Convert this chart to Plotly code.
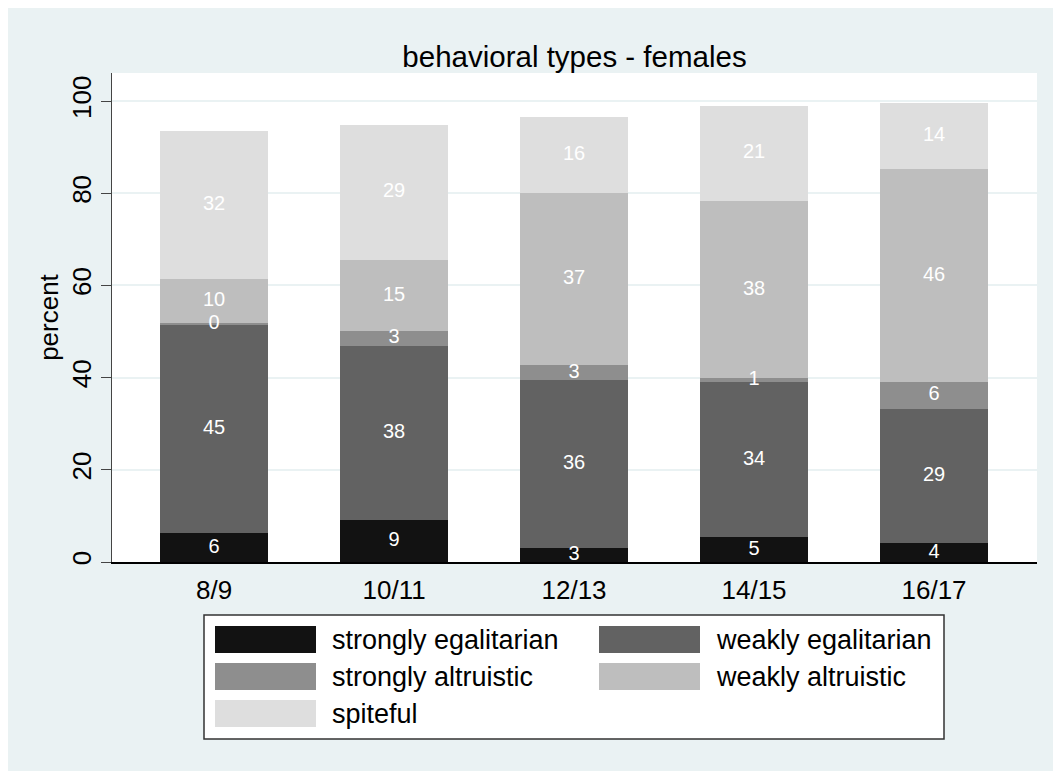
import plotly.graph_objects as go

# ---------------- data ----------------
categories = ["8/9", "10/11", "12/13", "14/15", "16/17"]
strongly_egalitarian = [6.2, 9.1, 3.1, 5.4, 4.1]
weakly_egalitarian = [45.4, 37.8, 36.4, 33.6, 29.2]
strongly_altruistic = [0.2, 3.2, 3.2, 0.9, 5.7]
weakly_altruistic = [9.6, 15.4, 37.4, 38.4, 46.3]
spiteful = [32.1, 29.4, 16.4, 20.7, 14.4]

series_names = ["strongly egalitarian", "weakly egalitarian", "strongly altruistic",
                "weakly altruistic", "spiteful"]
series_values = [strongly_egalitarian, weakly_egalitarian, strongly_altruistic,
                 weakly_altruistic, spiteful]
series_colors = ["#121212", "#626262", "#8E8E8E", "#BEBEBE", "#DEDEDE"]

y_ticks = [0, 20, 40, 60, 80, 100]

# ---------------- geometry (screen px, page keeps an 8px top/left margin) ----------------
OFF = 8
W, H = 1053 - OFF, 771 - OFF
L, R, T, B = 112 - OFF, 1037 - OFF, 73 - OFF, 562 - OFF   # plot area in figure px
PW, PH = R - L, B - T
FONT = "Liberation Sans, Arial, Helvetica, sans-serif"
BG = "#EAF2F3"


def px_x(x):
    return (x - OFF - L) / PW


def px_y(y):
    return (B - (y - OFF)) / PH


fig = go.Figure()

# stacked bars
for name, vals, col in zip(series_names, series_values, series_colors):
    fig.add_trace(go.Bar(
        x=categories, y=vals, name=name,
        marker=dict(color=col, line=dict(width=0)),
        showlegend=False,
    ))

# centred value labels
base = [0.0] * len(categories)
for vals in series_values:
    mids = [b + v / 2 for b, v in zip(base, vals)]
    fig.add_trace(go.Scatter(
        x=categories, y=mids, mode="text",
        text=[f"{v:.0f}" for v in vals],
        textfont=dict(color="white", size=20, family=FONT),
        showlegend=False, hoverinfo="skip",
    ))
    base = [b + v for b, v in zip(base, vals)]

shapes = []
# custom legend box (screen px)
lx0, lx1, ly0, ly1 = 204, 944, 615, 739
shapes.append(dict(type="rect", xref="paper", yref="paper", layer="above",
                   x0=px_x(lx0), x1=px_x(lx1), y0=px_y(ly1), y1=px_y(ly0),
                   fillcolor="white", line=dict(color="#333333", width=1.5)))

annotations = []
col_sw = [215, 599]
sw_w = 101
row_c = [639.5, 676.5, 713.5]
sw_h = 27
for i, (name, col) in enumerate(zip(series_names, series_colors)):
    r, c = divmod(i, 2)
    sx = col_sw[c]
    cy = row_c[r]
    shapes.append(dict(type="rect", xref="paper", yref="paper", layer="above",
                       x0=px_x(sx), x1=px_x(sx + sw_w),
                       y0=px_y(cy + sw_h / 2), y1=px_y(cy - sw_h / 2),
                       fillcolor=col, line=dict(width=0)))
    annotations.append(dict(xref="paper", yref="paper",
                            x=px_x(sx + sw_w + 14), y=px_y(cy),
                            xanchor="left", yanchor="middle", showarrow=False,
                            text=name, font=dict(size=27, color="black", family=FONT)))

fig.update_layout(
    width=W, height=H,
    margin=dict(l=L, r=W - R, t=T, b=H - B, pad=0),
    paper_bgcolor=BG, plot_bgcolor="white",
    barmode="stack", bargap=0.4,
    font=dict(family=FONT, color="black", size=26),
    title=dict(text="behavioral types - females", x=0.5, xref="paper",
               xanchor="center", y=1 - (57 - OFF) / H, yref="container", yanchor="middle",
               font=dict(size=29.5, color="black", family=FONT)),
    shapes=shapes, annotations=annotations,
    showlegend=False,
)

fig.update_xaxes(
    type="category", range=[-0.567, 4.572],
    showline=True, linecolor="black", linewidth=2,
    ticks="", showgrid=False, zeroline=False, ticklabelstandoff=4,
    tickfont=dict(size=26, color="black"),
)
fig.update_yaxes(
    range=[0, 106.1], tickvals=y_ticks, ticktext=[str(v) for v in y_ticks],
    ticks="outside", ticklen=10, tickcolor="#444444", tickwidth=1,
    tickangle=-90, showline=True, linecolor="#444444", linewidth=1,
    showgrid=True, gridcolor=BG, gridwidth=2, zeroline=False,
    tickfont=dict(size=26, color="black"),
    title=dict(text="percent", font=dict(size=26, color="black"), standoff=0),
)

fig.write_html(
    "out.html",
    post_script="document.body.style.margin='8px 0 0 8px';"
                "document.body.style.overflow='hidden';",
)
